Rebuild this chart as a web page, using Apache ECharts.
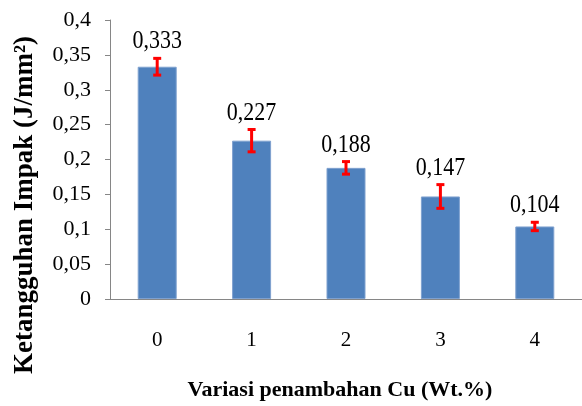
<!DOCTYPE html>
<html>
<head>
<meta charset="utf-8">
<script src="https://cdn.jsdelivr.net/npm/echarts@6/dist/echarts.min.js"></script>
<style>
  html, body { margin: 0; padding: 0; background: #fff; }
  #chart { width: 582px; height: 406px; }
</style>
</head>
<body>
<div id="chart"></div>
<script>
// data
var categories = ['0', '1', '2', '3', '4'];
var impactValues = [0.333, 0.227, 0.188, 0.147, 0.104];
var errorValues = [0.012, 0.016, 0.009, 0.017, 0.006];
var xTitle = 'Variasi penambahan Cu (Wt.%)';
var yTitle = 'Ketangguhan Impak (J/mm²)';

var serif = '"Liberation Serif", "Times New Roman", serif';

function koma(v) {
  return String(parseFloat(Number(v).toFixed(3))).replace('.', ',');
}

var errData = impactValues.map(function (v, i) {
  return [i, v, errorValues[i]];
});

var myChart = echarts.init(document.getElementById('chart'));

var option = {
  animation: false,
  backgroundColor: '#fff',
  grid: { left: 110, top: 20, right: -10, bottom: 107 },
  xAxis: {
    type: 'category',
    data: categories,
    axisLine: { lineStyle: { color: '#868686', width: 1 } },
    axisTick: { length: 7, lineStyle: { color: '#868686' } },
    axisLabel: { color: '#000', fontFamily: serif, fontSize: 21, margin: 31 }
  },
  yAxis: {
    type: 'value',
    min: 0,
    max: 0.4,
    interval: 0.05,
    splitLine: { show: false },
    axisLine: { show: true, lineStyle: { color: '#868686', width: 1 } },
    axisTick: { show: true, length: 5, lineStyle: { color: '#868686' } },
    axisLabel: {
      color: '#000', fontFamily: serif, fontSize: 22, margin: 19,
      formatter: function (v) { return koma(v); }
    }
  },
  graphic: [
    {
      type: 'text',
      x: 25, y: 205,
      rotation: Math.PI / 2,
      style: {
        text: yTitle,
        font: 'bold 27px ' + serif,
        fill: '#000',
        align: 'center', verticalAlign: 'middle',
        textAlign: 'center', textVerticalAlign: 'middle'
      }
    },
    {
      type: 'text',
      x: 340, y: 390,
      style: {
        text: xTitle,
        font: 'bold 22px ' + serif,
        fill: '#000',
        align: 'center', verticalAlign: 'middle',
        textAlign: 'center', textVerticalAlign: 'middle'
      }
    }
  ],
  series: [
    {
      type: 'bar',
      data: impactValues,
      barWidth: 39,
      itemStyle: { color: '#4F81BD', borderColor: '#7FA1CF', borderWidth: 1 },
      z: 2
    },
    {
      // error bars + value labels
      type: 'custom',
      data: errData,
      z: 5,
      renderItem: function (params, api) {
        var x = api.value(0), v = api.value(1), e = api.value(2);
        var top = api.coord([x, v + e]);
        var bot = api.coord([x, v - e]);
        var cap = 4;
        var ls = { stroke: '#FF0000', lineWidth: 3 };
        return {
          type: 'group',
          children: [
            { type: 'line', shape: { x1: top[0], y1: top[1], x2: bot[0], y2: bot[1] }, style: ls },
            { type: 'line', shape: { x1: top[0] - cap, y1: top[1], x2: top[0] + cap, y2: top[1] }, style: ls },
            { type: 'line', shape: { x1: bot[0] - cap, y1: bot[1], x2: bot[0] + cap, y2: bot[1] }, style: ls },
            {
              type: 'text',
              x: top[0], y: top[1] - 4,
              scaleY: 1.15,
              style: {
                text: koma(v),
                x: 0, y: 0,
                font: '22px ' + serif,
                fill: '#000',
                align: 'center', verticalAlign: 'bottom',
                textAlign: 'center', textVerticalAlign: 'bottom'
              }
            }
          ]
        };
      }
    }
  ]
};

myChart.setOption(option);
</script>
</body>
</html>
